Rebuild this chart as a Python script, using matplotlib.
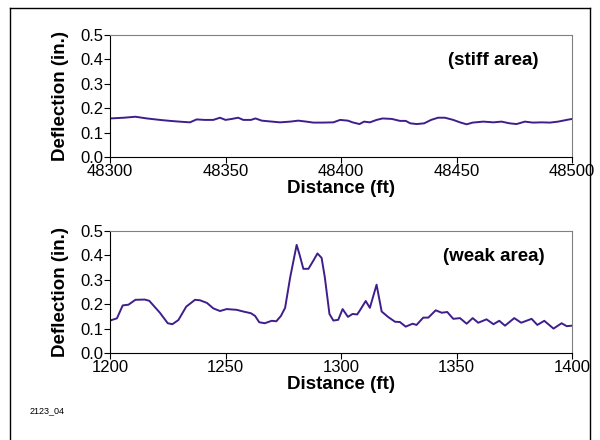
import matplotlib
matplotlib.use("Agg")
import matplotlib.pyplot as plt
from matplotlib.lines import Line2D
from matplotlib.ticker import FormatStrFormatter

plt.rcParams['font.family'] = ['Liberation Sans', 'DejaVu Sans']

# stiff area (48300-48500 ft)
stiff_dist = [48300, 48306, 48311, 48316, 48321.6, 48326, 48330, 48334.6, 48337.5, 48341,
              48344.7, 48347.6, 48350, 48352.7, 48355.5, 48357.7, 48361, 48363, 48365.7, 48369,
              48373.6, 48378, 48381.5, 48385, 48388, 48392, 48396.7, 48399.6, 48403, 48405,
              48408, 48410, 48412.5, 48415.4, 48418, 48422, 48425.5, 48428, 48430, 48432.8,
              48436, 48439, 48442, 48445, 48448.6, 48451.5, 48454.4, 48457, 48461.6, 48466,
              48469.5, 48473, 48476, 48479.6, 48483, 48487, 48490.5, 48494, 48497.7, 48500]
stiff_defl = [0.158, 0.161, 0.165, 0.158, 0.152, 0.148, 0.145, 0.142, 0.154, 0.152,
              0.152, 0.161, 0.152, 0.156, 0.161, 0.152, 0.152, 0.158, 0.149, 0.146,
              0.142, 0.145, 0.149, 0.145, 0.141, 0.141, 0.142, 0.152, 0.149, 0.142,
              0.135, 0.145, 0.142, 0.152, 0.158, 0.156, 0.148, 0.148, 0.138, 0.135,
              0.138, 0.152, 0.161, 0.161, 0.152, 0.142, 0.134, 0.141, 0.145, 0.142,
              0.145, 0.138, 0.135, 0.145, 0.141, 0.142, 0.141, 0.145, 0.152, 0.156]

# weak area (1200-1400 ft)
weak_dist = [1200, 1203, 1205.5, 1208, 1211, 1215, 1217, 1221.6, 1225, 1227,
             1229.6, 1233, 1236.8, 1239, 1242, 1244.7, 1247.6, 1250.5, 1254.8, 1257.7,
             1261, 1262.8, 1264.6, 1267, 1270, 1272, 1274, 1275.8, 1278, 1280.8,
             1282, 1283.7, 1285.9, 1288, 1289.8, 1291.6, 1293, 1295, 1296.7, 1298.8,
             1300.7, 1303, 1305, 1307, 1308, 1310.7, 1312.5, 1315.4, 1317.6, 1320.5,
             1323.4, 1325.5, 1328, 1331, 1332.7, 1335.6, 1337.8, 1341, 1343.6, 1346,
             1348.6, 1351.5, 1354.4, 1357, 1359.4, 1363, 1366, 1368.5, 1371, 1375,
             1378, 1382.5, 1385, 1388, 1392, 1395.5, 1397.7, 1400]
weak_defl = [0.133, 0.142, 0.195, 0.198, 0.218, 0.219, 0.214, 0.165, 0.122, 0.118,
             0.135, 0.19, 0.218, 0.216, 0.205, 0.183, 0.172, 0.18, 0.177, 0.17,
             0.163, 0.152, 0.126, 0.122, 0.132, 0.13, 0.152, 0.185, 0.31, 0.443,
             0.405, 0.345, 0.345, 0.378, 0.408, 0.39, 0.31, 0.16, 0.133, 0.136,
             0.18, 0.148, 0.16, 0.158, 0.172, 0.213, 0.185, 0.28, 0.17, 0.147,
             0.128, 0.127, 0.108, 0.12, 0.115, 0.145, 0.145, 0.175, 0.165, 0.168,
             0.14, 0.143, 0.12, 0.143, 0.124, 0.138, 0.118, 0.132, 0.112, 0.143,
             0.124, 0.14, 0.115, 0.132, 0.1, 0.122, 0.11, 0.112]

line_color = '#3F1E8C'
yticks = [0.0, 0.1, 0.2, 0.3, 0.4, 0.5]

fig = plt.figure(figsize=(6.0, 4.4), dpi=100)
ax1 = fig.add_axes([110 / 600, 1 - 157 / 440, 462 / 600, 122 / 440])
ax2 = fig.add_axes([110 / 600, 1 - 353 / 440, 462 / 600, 122 / 440])

panels = [
    (ax1, stiff_dist, stiff_defl, [48300, 48350, 48400, 48450, 48500], '(stiff area)'),
    (ax2, weak_dist, weak_defl, [1200, 1250, 1300, 1350, 1400], '(weak area)'),
]

for ax, xs, ys, xt, note in panels:
    ax.plot(xs, ys, color=line_color, lw=1.4)
    ax.set_xlim(xt[0], xt[-1])
    ax.set_ylim(0, 0.5)
    ax.set_xticks(xt)
    ax.set_yticks(yticks)
    ax.yaxis.set_major_formatter(FormatStrFormatter('%.1f'))
    ax.tick_params(direction='out', length=4, width=0.8, labelsize=12, pad=1)
    for side in ['left', 'bottom']:
        ax.spines[side].set_color('black')
        ax.spines[side].set_linewidth(0.8)
    for side in ['top', 'right']:
        ax.spines[side].set_color('#808080')
        ax.spines[side].set_linewidth(0.8)
    ax.set_xlabel('Distance (ft)', fontsize=13.5, fontweight='bold', labelpad=1)
    ax.set_ylabel('Deflection (in.)', fontsize=13.5, fontweight='bold', labelpad=8)
    ax.text(0.83, 0.795, note, transform=ax.transAxes, ha='center', va='center',
            fontsize=13.5, fontweight='bold')

# outer frame (open at the bottom)
for x0, y0, x1, y1 in [(10, 8, 590, 8), (10, 8, 10, 440), (590, 8, 590, 440)]:
    fig.add_artist(Line2D([x0 / 600, x1 / 600], [1 - y0 / 440, 1 - y1 / 440],
                          color='black', lw=1.0, transform=fig.transFigure))

fig.text(30 / 600, 1 - 411 / 440, '2123_04', fontsize=6.5, va='center')

fig.savefig('out.png', dpi=100)
